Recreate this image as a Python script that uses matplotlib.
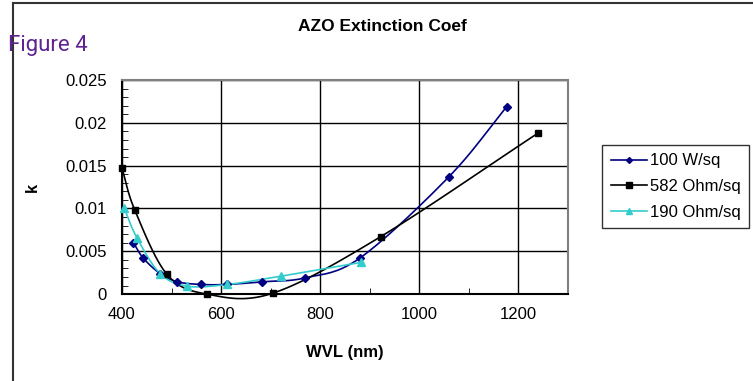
import numpy as np
import matplotlib.pyplot as plt
from matplotlib.lines import Line2D

plt.rcParams['font.family'] = ['Liberation Sans', 'DejaVu Sans']

# data
wvl_100 = [423, 443, 477, 512, 559, 612, 683, 770, 880, 1060, 1177]
k_100 = [0.0060, 0.0042, 0.0024, 0.00144, 0.00113, 0.00113, 0.00144, 0.0019, 0.0042, 0.0137, 0.0219]

wvl_582 = [400, 426, 491, 572, 704, 922, 1240]
k_582 = [0.0147, 0.0098, 0.0023, 0.0, 0.0001, 0.0067, 0.0188]

wvl_190 = [404, 430, 477, 532, 613, 721, 882]
k_190 = [0.0101, 0.0066, 0.0024, 0.00093, 0.00113, 0.0021, 0.0037]

labels = ['100 W/sq', '582 Ohm/sq', '190 Ohm/sq']


def smooth(x, y, n=20):
    # Catmull-Rom curve through the points, like Excel's smoothed line
    x = np.asarray(x, float)
    y = np.asarray(y, float)
    px = np.concatenate([[2 * x[0] - x[1]], x, [2 * x[-1] - x[-2]]])
    py = np.concatenate([[2 * y[0] - y[1]], y, [2 * y[-1] - y[-2]]])
    xs, ys = [], []
    t = np.linspace(0, 1, n)
    for i in range(1, len(px) - 2):
        for p, out in ((px, xs), (py, ys)):
            p0, p1, p2, p3 = p[i - 1], p[i], p[i + 1], p[i + 2]
            out.extend(0.5 * ((2 * p1) + (-p0 + p2) * t
                              + (2 * p0 - 5 * p1 + 4 * p2 - p3) * t ** 2
                              + (-p0 + 3 * p1 - 3 * p2 + p3) * t ** 3))
    return xs, ys


fig = plt.figure(figsize=(7.53, 3.81), dpi=100)
ax = fig.add_axes([0.162, 0.228, 0.592, 0.562])

series = [
    (wvl_100, k_100, '#000080', 'D', 4),
    (wvl_582, k_582, 'black', 's', 5),
    (wvl_190, k_190, '#33CCCC', '^', 6),
]
handles = []
for (x, y, c, m, ms), lab in zip(series, labels):
    sx, sy = smooth(x, y)
    ax.plot(sx, sy, color=c, lw=1.2, clip_on=False, zorder=3)
    ax.plot(x, y, ls='none', marker=m, color=c, ms=ms, clip_on=False, zorder=4)
    handles.append(Line2D([], [], color=c, marker=m, ms=ms - 1, lw=1.2))

ax.set_xlim(400, 1300)
ax.set_ylim(0, 0.025)
ax.set_xticks([400, 600, 800, 1000, 1200])
ax.set_xticks([500, 700, 900, 1100], minor=True)
ax.set_yticks([0, 0.005, 0.01, 0.015, 0.02, 0.025])
ax.set_yticklabels(['0', '0.005', '0.01', '0.015', '0.02', '0.025'])
ax.set_yticks(np.arange(0, 0.025, 0.001), minor=True)
ax.tick_params(which='both', direction='in', labelsize=12)
ax.tick_params(which='major', length=0, pad=11)
ax.tick_params(axis='x', which='major', pad=9)
ax.tick_params(which='minor', length=4, color='black')
ax.grid(True, which='major', color='black', lw=1)
ax.set_axisbelow(True)
for s in ['top', 'right']:
    ax.spines[s].set_color('#808080')
    ax.spines[s].set_linewidth(1.5)
for s in ['left', 'bottom']:
    ax.spines[s].set_linewidth(1.5)

ax.set_xlabel('WVL (nm)', fontsize=12, fontweight='bold', labelpad=17)
ax.set_ylabel('k', fontsize=12, fontweight='bold', rotation=90, labelpad=18)

fig.text(0.508, 0.93, 'AZO Extinction Coef', ha='center', va='center',
         fontsize=12.5, fontweight='bold')
fig.text(0.010, 0.88, 'Figure 4', ha='left', va='center', fontsize=16,
         color='#5E2390', family=['Liberation Sans Narrow', 'Roboto'])

leg = fig.legend(handles, labels, loc='center left', bbox_to_anchor=(0.8, 0.51),
                 fontsize=12, frameon=True, fancybox=False, edgecolor='black',
                 handlelength=2.2, handletextpad=0.15, labelspacing=0.65,
                 borderpad=0.5, borderaxespad=0)
leg.get_frame().set_linewidth(1)

# outer chart border
fig.add_artist(Line2D([0.017, 0.017], [0.0, 0.992], color='#333333', lw=1.5))
fig.add_artist(Line2D([0.017, 1.0], [0.992, 0.992], color='#333333', lw=1.5))

fig.savefig('out.png', dpi=100)
